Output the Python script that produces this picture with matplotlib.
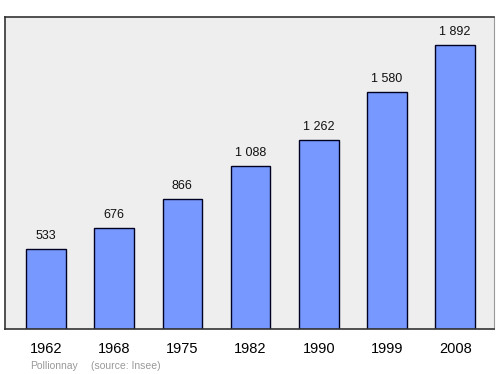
import numpy as np
import matplotlib
matplotlib.use('Agg')
import matplotlib.pyplot as plt

plt.rcParams['font.family'] = ['Liberation Sans', 'DejaVu Sans']

# données
years = ['1962', '1968', '1975', '1982', '1990', '1999', '2008']
population = [533, 676, 866, 1088, 1262, 1580, 1892]
value_labels = ['533', '676', '866', '1 088', '1 262', '1 580', '1 892']

fig = plt.figure(figsize=(5, 3.74), dpi=100)
ax = fig.add_axes([0.01, 0.1203, 0.978, 0.8342])
ax.set_facecolor('#eeeeee')

x = np.arange(len(years))
bars = ax.bar(x, population, width=0.58, color='#7799ff', edgecolor='#000022', linewidth=1)

for xi, v, lab in zip(x, population, value_labels):
    ax.annotate(lab, (xi, v), xytext=(0, 5), textcoords='offset points',
                ha='center', va='bottom', fontsize=9, color='#111111')

ax.set_xlim(-0.6, 6.57)
ax.set_ylim(0, max(population) * 1.1)
ax.set_yticks([])
ax.set_xticks(x)
ax.set_xticklabels(years, fontsize=10.5)
ax.tick_params(axis='x', length=0, pad=9)

for side in ['left', 'top', 'bottom']:
    ax.spines[side].set_color('#333333')
    ax.spines[side].set_linewidth(1.2)
ax.spines['right'].set_color('#999999')

fig.text(0.06, 0.013, 'Pollionnay', fontsize=7.5, color='#999999')
fig.text(0.182, 0.013, '(source: Insee)', fontsize=7.5, color='#999999')

fig.savefig('out.png', dpi=100)
